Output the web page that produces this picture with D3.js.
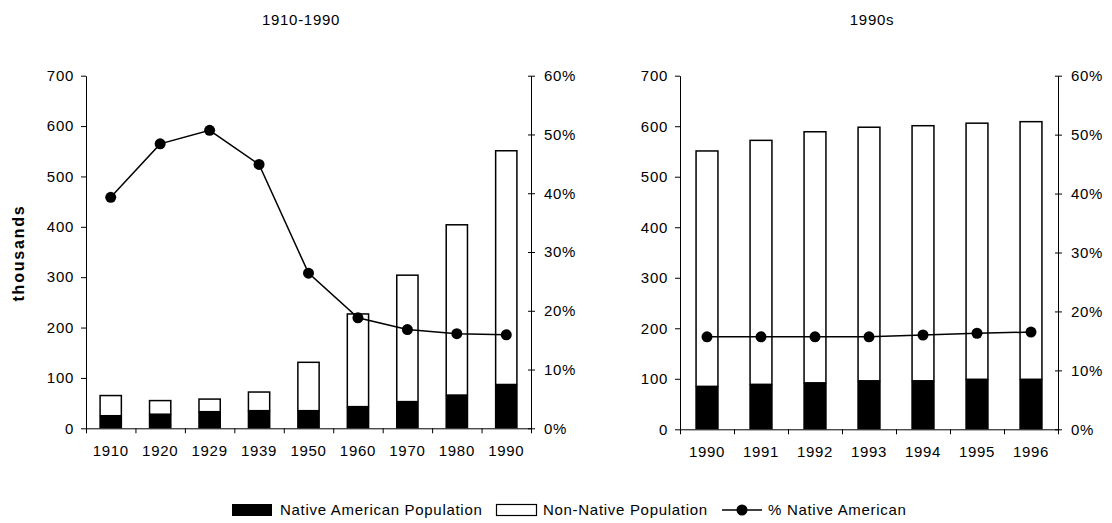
<!DOCTYPE html>
<html><head><meta charset="utf-8">
<script src="https://cdn.jsdelivr.net/npm/d3@7"></script>
<style>
body{margin:0;background:#fff}
svg text{font-family:"Liberation Sans",Arial,sans-serif;fill:#000}
</style>
</head><body>
<svg id="c" width="1112" height="523"></svg>
<script>
// ---- data ----
const yearsA = ["1910","1920","1929","1939","1950","1960","1970","1980","1990"];
const nativeA = [25, 28, 33, 35, 35, 43, 53, 66, 87];
const nonNativeA = [40, 27, 25, 37, 96, 184, 251, 338, 464];
const pctA = [0.393, 0.484, 0.507, 0.449, 0.264, 0.188, 0.168, 0.161, 0.159];

const yearsB = ["1990","1991","1992","1993","1994","1995","1996"];
const nativeB = [85, 89, 92, 96, 96, 99, 99];
const nonNativeB = [466, 483, 497, 502, 505, 507, 510];
const pctB = [0.157, 0.157, 0.157, 0.157, 0.160, 0.163, 0.165];

const popTicks = [0,100,200,300,400,500,600,700];
const pctTicks = [0,0.1,0.2,0.3,0.4,0.5,0.6];
const titles = ["1910-1990", "1990s"];
const yLabel = "thousands";
const legendLabels = ["Native American Population", "Non-Native Population", "% Native American"];

const svg = d3.select("#c");
const FS = 15;
const LS = "0.7px";

function panel(o) {
  const g = svg.append("g");
  const x = d3.scaleBand().domain(o.years).range([o.x0, o.x1]).paddingInner(o.pad).paddingOuter(o.pad/2);
  const xb = d3.scaleLinear().domain([0, o.years.length]).range([o.x0, o.x1]);
  const y = d3.scaleLinear().domain([0, 700]).range([o.yb, o.yt]);
  const yp = d3.scaleLinear().domain([0, 0.6]).range([o.yb, o.yt]);

  const rows = o.years.map((yr, i) => ({yr, n: o.nat[i], nn: o.non[i], p: o.pct[i]}));
  g.selectAll(".nn").data(rows).join("rect")
    .attr("x", d => x(d.yr)).attr("width", x.bandwidth())
    .attr("y", d => y(d.n + d.nn)).attr("height", d => y(d.n) - y(d.n + d.nn))
    .attr("fill", "#fff").attr("stroke", "#000").attr("stroke-width", 1.5);
  g.selectAll(".nat").data(rows).join("rect")
    .attr("x", d => x(d.yr) - 0.75).attr("width", x.bandwidth() + 1.5)
    .attr("y", d => y(d.n)).attr("height", d => y(0) - y(d.n))
    .attr("fill", "#000");

  const ax = g.append("g").attr("transform", `translate(0,${o.yb})`)
    .call(d3.axisBottom(xb).tickValues(d3.range(o.years.length + 1)).tickSize(5).tickFormat(""));
  ax.select(".domain").attr("d", `M${o.x0},0.5H${o.x1}`);
  const axl = g.append("g").attr("transform", `translate(0,${o.yb + 8})`)
    .call(d3.axisBottom(x).tickSize(0).tickPadding(9));
  axl.select(".domain").remove();
  axl.selectAll("text").attr("font-size", FS).style("letter-spacing", LS);

  const al = g.append("g").attr("transform", `translate(${o.x0},0)`)
    .call(d3.axisLeft(y).tickValues(popTicks).tickSize(5).tickSizeOuter(0).tickPadding(7));
  al.selectAll("text").attr("font-size", FS).style("letter-spacing", LS);

  const ar = g.append("g").attr("transform", `translate(${o.x1},0)`)
    .call(d3.axisRight(yp).tickValues(pctTicks).tickSize(4).tickSizeOuter(0).tickPadding(9).tickFormat(d3.format(".0%")));
  ar.selectAll(".tick line").attr("x1", -3);
  ar.selectAll("text").attr("font-size", FS).style("letter-spacing", LS);
  g.selectAll(".domain").attr("stroke", "#000");
  g.selectAll(".tick line").attr("stroke", "#000");

  const line = d3.line().x(d => x(d.yr) + x.bandwidth()/2).y(d => yp(d.p));
  g.append("path").datum(rows).attr("d", line).attr("fill", "none").attr("stroke", "#000").attr("stroke-width", 1.5);
  g.selectAll(".dot").data(rows).join("circle")
    .attr("cx", d => x(d.yr) + x.bandwidth()/2).attr("cy", d => yp(d.p)).attr("r", 5.5).attr("fill", "#000");

  g.append("text").attr("x", o.tx).attr("y", 25).attr("text-anchor", "middle")
    .attr("font-size", FS).style("letter-spacing", LS).text(o.title);
}

panel({years: yearsA, nat: nativeA, non: nonNativeA, pct: pctA, x0: 86, x1: 531, yt: 75.7, yb: 428.3, pad: 0.57, tx: 301, title: titles[0]});
panel({years: yearsB, nat: nativeB, non: nonNativeB, pct: pctB, x0: 680, x1: 1058, yt: 75.7, yb: 429.3, pad: 0.595, tx: 872, title: titles[1]});

svg.append("text").attr("transform", "translate(24,253) rotate(-90)").attr("text-anchor", "middle")
  .attr("font-size", 16).attr("font-weight", "bold").style("letter-spacing", "1.8px").text(yLabel);

const lg = svg.append("g");
const ly = 510;
lg.append("rect").attr("x", 232).attr("y", ly - 6).attr("width", 40).attr("height", 12).attr("fill", "#000");
lg.append("text").attr("x", 280).attr("y", ly + 5).attr("font-size", FS).style("letter-spacing", LS).text(legendLabels[0]);
lg.append("rect").attr("x", 496.5).attr("y", ly - 5.5).attr("width", 40).attr("height", 11).attr("fill", "#fff").attr("stroke", "#000").attr("stroke-width", 1.2);
lg.append("text").attr("x", 543).attr("y", ly + 5).attr("font-size", FS).style("letter-spacing", LS).text(legendLabels[1]);
lg.append("line").attr("x1", 722).attr("x2", 762).attr("y1", ly).attr("y2", ly).attr("stroke", "#000").attr("stroke-width", 1.5);
lg.append("circle").attr("cx", 742).attr("cy", ly).attr("r", 5.5).attr("fill", "#000");
lg.append("text").attr("x", 768).attr("y", ly + 5).attr("font-size", FS).style("letter-spacing", LS).text(legendLabels[2]);
</script>
</body></html>
